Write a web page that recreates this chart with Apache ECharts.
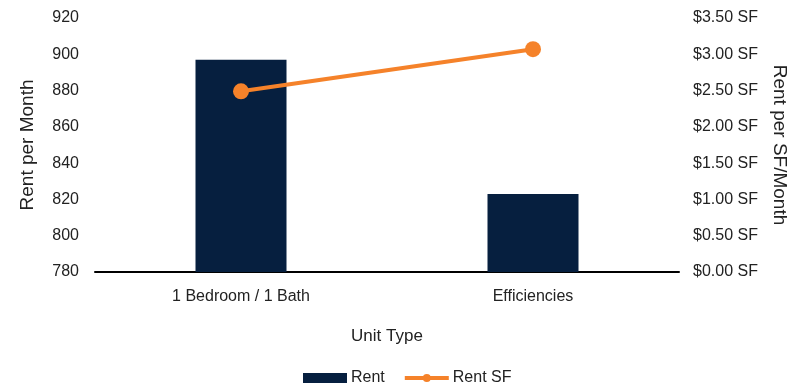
<!DOCTYPE html>
<html><head><meta charset="utf-8">
<script src="https://cdn.jsdelivr.net/npm/echarts@6/dist/echarts.min.js"></script>
<style>html,body{margin:0;padding:0;background:#fff}#c{width:801px;height:389px}</style>
</head><body><div id="c"></div>
<script>
const categories = ["1 Bedroom / 1 Bath", "Efficiencies"];
const rent = [897, 823];
const rentSF = [2.49, 3.07];
const leftTicks = [780, 920, 20];
const rightTicks = [0, 3.5, 0.5];

const font = "'Liberation Sans', Arial, sans-serif";
const txt = {color: '#222', fontFamily: font, fontSize: 16};
const nameTxt = {color: '#222', fontFamily: font, fontSize: 19};
const chart = echarts.init(document.getElementById('c'));
chart.setOption({
  animation: false,
  grid: {left: 95, right: 122, top: 18, bottom: 117},
  legend: {
    bottom: -2, left: 298, itemGap: 18,
    textStyle: Object.assign({}, txt, {padding: [0,0,0,-1]}),
    data: [
      {name: 'Rent', icon: 'rect', itemStyle: {color: '#061F3F'}},
      {name: 'Rent SF', lineStyle: {width: 4, color: '#F5822A'}, itemStyle: {color: '#F5822A'}}
    ],
    itemWidth: 44, itemHeight: 10
  },
  xAxis: {
    type: 'category', data: categories,
    name: 'Unit Type', nameLocation: 'middle', nameGap: 56,
    nameTextStyle: Object.assign({}, txt, {fontSize: 17}),
    axisLine: {lineStyle: {color: '#000', width: 2}},
    axisTick: {show: false},
    axisLabel: Object.assign({margin: 17}, txt)
  },
  yAxis: [
    {type: 'value', min: leftTicks[0], max: leftTicks[1], interval: leftTicks[2],
     name: 'Rent per Month', nameLocation: 'middle', nameGap: 58, nameTextStyle: nameTxt,
     axisLine: {show: false}, axisTick: {show: false}, splitLine: {show: false},
     axisLabel: Object.assign({margin: 16}, txt)},
    {type: 'value', min: rightTicks[0], max: rightTicks[1], interval: rightTicks[2],
     name: 'Rent per SF/Month', nameLocation: 'middle', nameGap: 91, nameRotate: -90, nameTextStyle: nameTxt,
     axisLine: {show: false}, axisTick: {show: false}, splitLine: {show: false},
     axisLabel: Object.assign({margin: 14, formatter: v => '$' + v.toFixed(2) + ' SF'}, txt)}
  ],
  series: [
    {name: 'Rent', type: 'bar', data: rent, yAxisIndex: 0, barWidth: 91,
     itemStyle: {color: '#061F3F'}},
    {name: 'Rent SF', type: 'line', data: rentSF, yAxisIndex: 1,
     symbol: 'circle', symbolSize: 16,
     lineStyle: {color: '#F5822A', width: 4},
     itemStyle: {color: '#F5822A'}}
  ]
});
</script></body></html>
